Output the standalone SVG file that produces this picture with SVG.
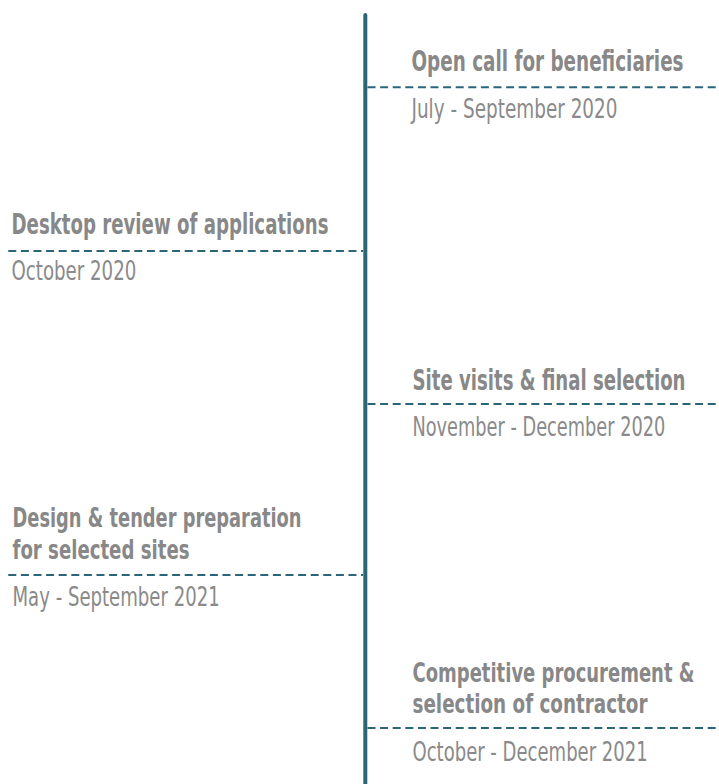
<svg xmlns="http://www.w3.org/2000/svg" width="719" height="784" viewBox="0 0 719 784">
<style>
.title{font-family:"DejaVu Sans Condensed","DejaVu Sans",sans-serif;font-stretch:condensed;font-weight:bold;font-size:28px;fill:#888888}
.title2{font-family:"DejaVu Sans Condensed","DejaVu Sans",sans-serif;font-stretch:condensed;font-weight:bold;font-size:27px;fill:#888888}
.date{font-family:"DejaVu Sans Condensed","DejaVu Sans",sans-serif;font-stretch:condensed;font-size:26px;fill:#8a8a8a}
.dash{stroke:#2a6578;stroke-width:2;stroke-dasharray:8 4.6;fill:none}
.axis{stroke:#2a6578;stroke-width:4;stroke-linecap:round;fill:none}
</style>
<rect width="719" height="784" fill="#ffffff"/>
<g id="connectors">
<line class="axis" x1="365.3" y1="15" x2="365.3" y2="790"/>
<line class="dash" x1="367.5" y1="87.3" x2="719" y2="87.3"/>
<line class="dash" x1="8.3" y1="251" x2="363" y2="251"/>
<line class="dash" x1="367.5" y1="404" x2="719" y2="404"/>
<line class="dash" x1="8.3" y1="575" x2="363" y2="575"/>
<line class="dash" x1="367.5" y1="728" x2="719" y2="728"/>
</g>
<g id="node-open-call">
<text class="title" transform="translate(411.5,71) scale(0.65,1)" textLength="418.5" lengthAdjust="spacingAndGlyphs">Open call for beneficiaries</text>
<text class="date" transform="translate(411.5,118) scale(0.8,1)" textLength="257.5" lengthAdjust="spacingAndGlyphs">July - September 2020</text>
</g>
<g id="node-desktop-review">
<text class="title" transform="translate(11.5,234) scale(0.65,1)" textLength="487.7" lengthAdjust="spacingAndGlyphs">Desktop review of applications</text>
<text class="date" transform="translate(11.5,280) scale(0.8,1)" textLength="156" lengthAdjust="spacingAndGlyphs">October 2020</text>
</g>
<g id="node-site-visits">
<text class="title" transform="translate(412.5,390) scale(0.65,1)" textLength="420" lengthAdjust="spacingAndGlyphs">Site visits &amp; final selection</text>
<text class="date" transform="translate(412.5,436) scale(0.8,1)" textLength="316" lengthAdjust="spacingAndGlyphs">November - December 2020</text>
</g>
<g id="node-design-tender">
<text class="title2" transform="translate(12.5,0) scale(0.65,1)"><tspan x="0" y="527.5" textLength="444.6" lengthAdjust="spacingAndGlyphs">Design &amp; tender preparation</tspan><tspan x="0" y="559" textLength="272.3" lengthAdjust="spacingAndGlyphs">for selected sites</tspan></text>
<text class="date" transform="translate(12.5,606) scale(0.8,1)" textLength="259" lengthAdjust="spacingAndGlyphs">May - September 2021</text>
</g>
<g id="node-procurement">
<text class="title2" transform="translate(412.5,0) scale(0.65,1)"><tspan x="0" y="682" textLength="433.8" lengthAdjust="spacingAndGlyphs">Competitive procurement &amp;</tspan><tspan x="0" y="713.5" textLength="361.5" lengthAdjust="spacingAndGlyphs">selection of contractor</tspan></text>
<text class="date" transform="translate(412.5,761) scale(0.8,1)" textLength="294" lengthAdjust="spacingAndGlyphs">October - December 2021</text>
</g>
</svg>
